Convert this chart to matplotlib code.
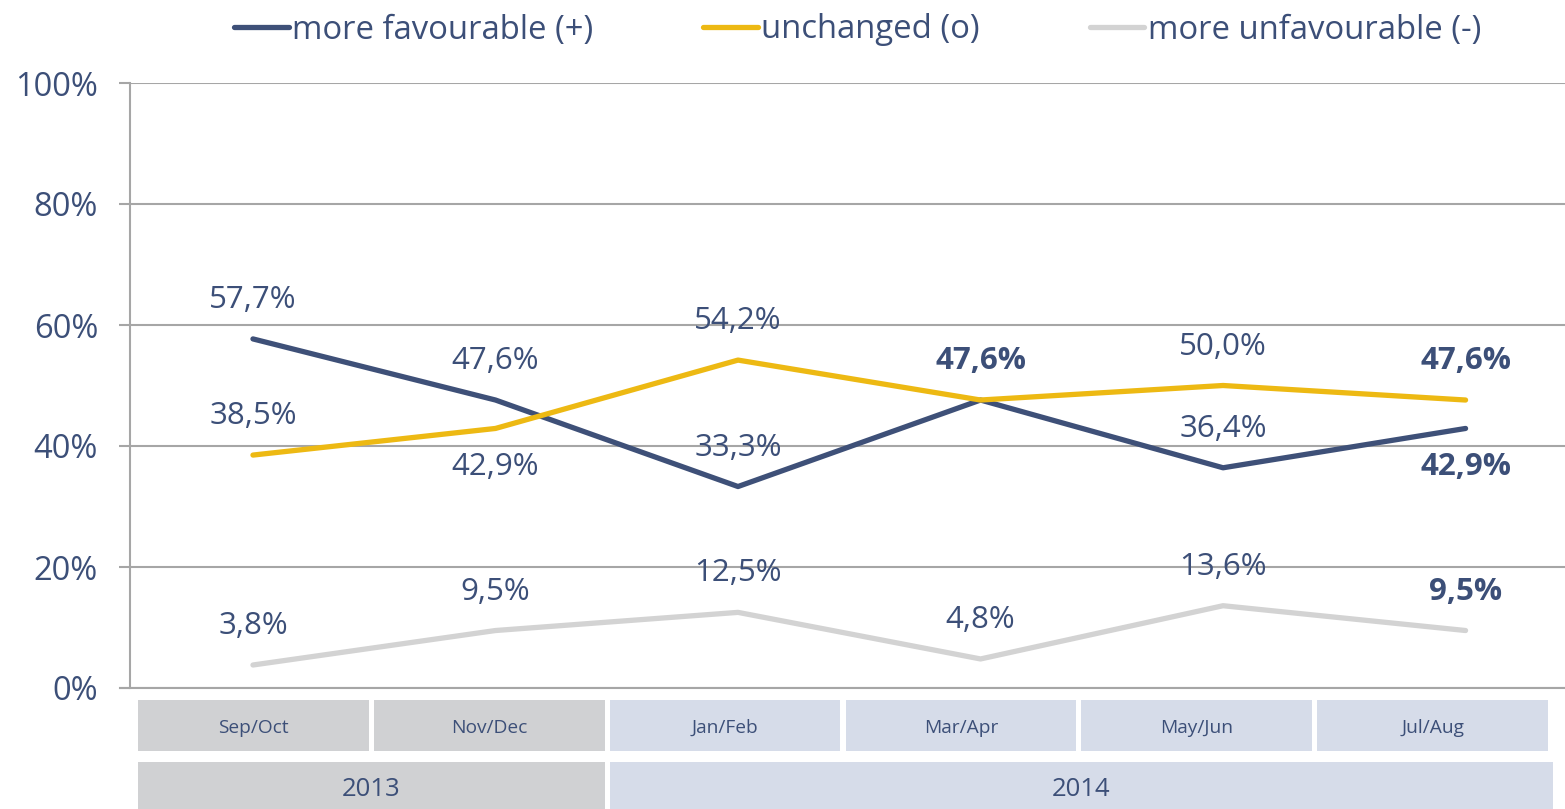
import matplotlib.pyplot as plt
from matplotlib.patches import Rectangle
import numpy as np

plt.rcParams['font.family'] = ['Open Sans', 'DejaVu Sans']

# data
periods = ['Sep/Oct', 'Nov/Dec', 'Jan/Feb', 'Mar/Apr', 'May/Jun', 'Jul/Aug']
years = ['2013', '2014']
year_span = [2, 4]
favourable = [57.7, 47.6, 33.3, 47.6, 36.4, 42.9]
unchanged = [38.5, 42.9, 54.2, 47.6, 50.0, 47.6]
unfavourable = [3.8, 9.5, 12.5, 4.8, 13.6, 9.5]
series_names = ['more favourable (+)', 'unchanged (o)', 'more unfavourable (-)']

# where each value label goes (None = not shown)
fav_pos = ['above', 'above', 'above', 'above', 'above', 'below']
unch_pos = ['above', 'below', 'above', None, 'above', 'above']
unfav_pos = ['above'] * 6
fav_bold = [False, False, False, True, False, True]
unch_bold = [False, False, False, False, False, True]
unfav_bold = [False, False, False, False, False, True]

text_col = '#3c4f78'
colors = ['#3e5078', '#edb913', '#d3d3d3']
grid_col = '#a6a6a6'
year_colors = ['#d0d1d3', '#d6dce9']

fig = plt.figure(figsize=(15.65, 8.09), dpi=100)
ax = fig.add_axes([130 / 1565, 1 - 688 / 809, 1 - 130 / 1565, (688 - 83) / 809])

x = np.arange(len(periods))
all_series = [favourable, unchanged, unfavourable]
all_pos = [fav_pos, unch_pos, unfav_pos]
all_bold = [fav_bold, unch_bold, unfav_bold]
for vals, col, name in zip(all_series, colors, series_names):
    ax.plot(x, vals, color=col, lw=3.8, solid_capstyle='round',
            solid_joinstyle='round', label=name, zorder=3)

for vals, pos, bold in zip(all_series, all_pos, all_bold):
    for i, v in enumerate(vals):
        if pos[i] is None:
            continue
        dy = 28 if pos[i] == 'above' else -28
        txt = f'{v:.1f}%'.replace('.', ',')
        ax.annotate(txt, (x[i], v), xytext=(0, dy), textcoords='offset points',
                    ha='center', va='center', fontsize=22.5, color=text_col,
                    fontweight='bold' if bold[i] else 'normal', zorder=4)

ax.set_xlim(-0.507, 5.41)
ax.set_ylim(0, 100)
ax.set_yticks(np.arange(0, 101, 20))
ax.set_yticklabels([f'{t}%' for t in range(0, 101, 20)])
ax.set_xticks([])
ax.yaxis.grid(True, color=grid_col, lw=1.5)
ax.set_axisbelow(True)
ax.tick_params(axis='y', length=8, width=1.5, color=grid_col, labelsize=23.5,
               labelcolor=text_col, pad=15)
for s in ['top', 'right']:
    ax.spines[s].set_visible(False)
ax.spines['left'].set_color(grid_col)
ax.spines['left'].set_linewidth(1.5)
ax.spines['bottom'].set_color(grid_col)
ax.spines['bottom'].set_linewidth(1.5)
ax.spines['bottom'].set_bounds(-0.55, 5.41)
ax.spines['bottom'].set_clip_on(False)

fig.legend(loc='center', bbox_to_anchor=(0.548, 1 - 30 / 809), ncol=3, frameon=False,
           fontsize=23.7, labelcolor=text_col, handlelength=1.65, handletextpad=0.1,
           columnspacing=3.35)

# category table under the plot
tab = fig.add_axes([138 / 1565, 0, (1553 - 138) / 1565, (809 - 700) / 809])
tab.set_xlim(0, len(periods))
tab.set_ylim(109, 0)
tab.axis('off')
gap = 5 / (1415 / len(periods))
year_of = np.repeat(np.arange(len(years)), year_span)
for i, p in enumerate(periods):
    tab.add_patch(Rectangle((i, 0), 1 - gap, 51, color=year_colors[year_of[i]], lw=0))
    tab.text(i + (1 - gap) / 2, 28, p, ha='center', va='center', fontsize=13.8,
             color=text_col)
start = 0
for j, (yr, span) in enumerate(zip(years, year_span)):
    w = span - gap if start + span < len(periods) else span
    tab.add_patch(Rectangle((start, 62), w, 60, color=year_colors[j], lw=0,
                            clip_on=False))
    tab.text(start + w / 2, 90, yr, ha='center', va='center', fontsize=18.5,
             color=text_col)
    start += span

fig.savefig('out.png', dpi=100)
